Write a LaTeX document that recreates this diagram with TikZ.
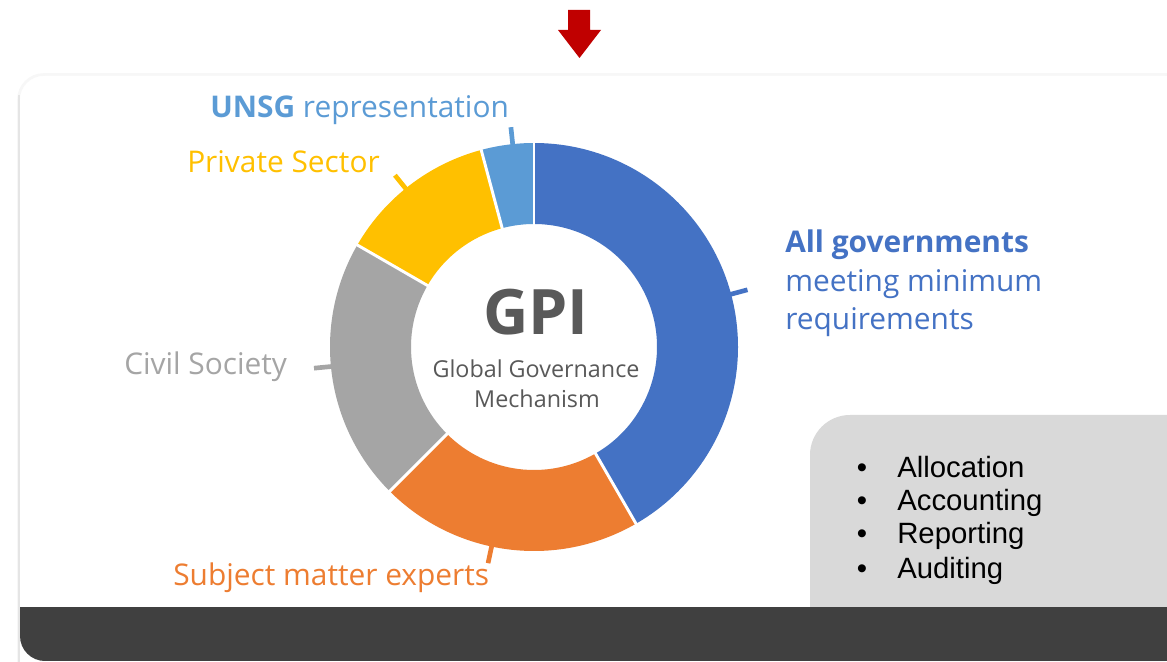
\documentclass[tikz,border=0pt]{standalone}
\usepackage{fontspec}
\setmainfont{Open Sans}
\newfontfamily\listfont{Liberation Sans}
\definecolor{govblue}{HTML}{4472C4}
\definecolor{expertorange}{HTML}{ED7D31}
\definecolor{civilgray}{HTML}{A5A5A5}
\definecolor{privateyellow}{HTML}{FFC000}
\definecolor{unsgblue}{HTML}{5B9BD5}
\definecolor{barblack}{HTML}{404040}
\definecolor{boxgray}{HTML}{D9D9D9}
\definecolor{gpigray}{HTML}{595959}
\definecolor{arrowred}{HTML}{C00000}
\tikzset{
    seglabel/.style={anchor=base west, inner sep=0pt, font=\fontsize{22.4}{26}\selectfont},
    taskitem/.style={anchor=base west, inner sep=0pt, text=black, font=\listfont\fontsize{22}{26}\selectfont}
}
\begin{document}
\begin{tikzpicture}[x=0.75pt, y=0.75pt]
        \clip (0,0) rectangle (1167,661);
        \fill[white] (0,0) rectangle (1167,661);

        \draw[black!3, line width=2pt, rounded corners=19pt] (1190,586.5) -- (18.5,586.5) -- (18.5,-20);
        \draw[black!10, line width=1.8pt] (18.8,566) -- (18.8,-20);
        \fill[white, rounded corners=18.75pt] (1190,585) -- (20,585) -- (20,0) -- (1190,0) -- cycle;
        \begin{scope}
            \clip[rounded corners=18.75pt] (1190,585) -- (20,585) -- (20,0) -- (1190,0) -- cycle;
            \fill[boxgray, rounded corners=30pt] (1260,-60) -- (810,-60) -- (810,246) -- (1260,246) -- cycle;
            \fill[barblack] (0,0) rectangle (1190,54);
        \end{scope}

        \fill[arrowred] (568,651) -- (590,651) -- (590,631) -- (601,631) -- (579.5,603) -- (558,631) -- (568,631) -- cycle;

        \begin{scope}[shift={(534,314)}]
            \foreach \from/\to/\col in {90/-60/govblue, -60/-135/expertorange, -135/-210/civilgray, -210/-255/privateyellow, -255/-270/unsgblue}
                \fill[\col] (\from:204) arc (\from:\to:204) -- (\to:123) arc (\to:\from:123) -- cycle;
            \foreach \a in {90, -60, -135, -210, -255}
                \draw[white, line width=2.2pt] (\a:118) -- (\a:210);
            \foreach \a/\col in {15/govblue, -102/expertorange, -174.5/civilgray, 129/privateyellow, 96/unsgblue}
                \draw[\col, line width=3.5pt] (\a:200) -- (\a:221);
        \end{scope}

        \node[anchor=base, inner sep=0pt, text=gpigray, font=\bfseries\fontsize{47}{50}\selectfont] (gpi) at (536,326) {GPI};
        \node[anchor=base, inner sep=0pt, text=gpigray, font=\fontsize{17.5}{20}\selectfont] (mech1) at (536,283) {Global Governance};
        \node[anchor=base, inner sep=0pt, text=gpigray, font=\fontsize{17.5}{20}\selectfont] (mech2) at (537,253) {Mechanism};

        \node[seglabel, text=unsgblue] (unsg) at (210,543) {\textbf{UNSG} representation};
        \node[seglabel, text=privateyellow] (private) at (187,488) {Private Sector};
        \node[seglabel, text=civilgray] (civil) at (124,286) {Civil Society};
        \node[seglabel, text=expertorange] (experts) at (173,76) {Subject matter experts};
        \node[seglabel, text=govblue] (gov) at (785,408) {\textbf{All governments}};
        \node[seglabel, text=govblue] (govmeet) at (785,369) {meeting minimum};
        \node[seglabel, text=govblue] (govreq) at (785,331) {requirements};

        \foreach \task/\yy [count=\i] in {Allocation/184, Accounting/151, Reporting/118, Auditing/83} {
            \node[taskitem] (task\i) at (897,\yy) {\task};
            \node[taskitem, anchor=base] (dot\i) at (862,\yy) {\textbullet};
        }
\end{tikzpicture}
\end{document}
